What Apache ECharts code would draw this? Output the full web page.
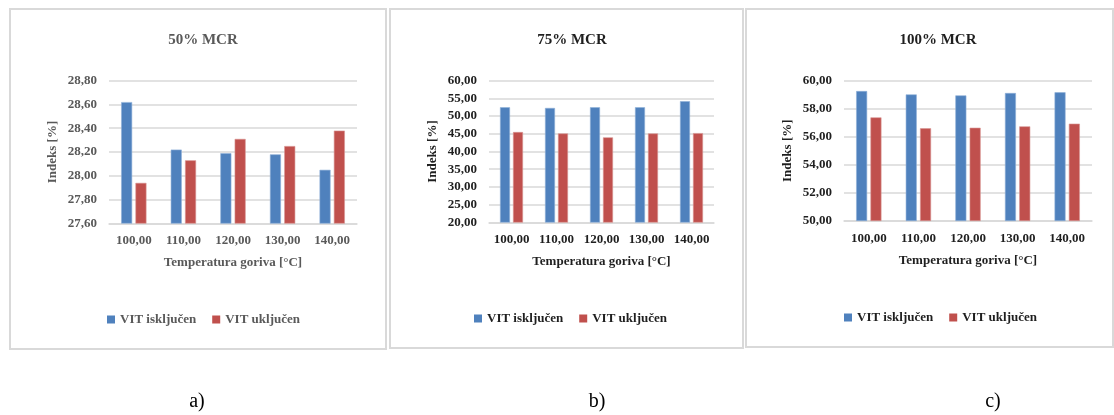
<!DOCTYPE html>
<html>
<head>
<meta charset="utf-8">
<script src="https://cdn.jsdelivr.net/npm/echarts@6/dist/echarts.min.js"></script>
<style>
html,body{margin:0;padding:0;background:#fff;}
#c{width:1114px;height:415px;}
</style>
</head>
<body>
<div id="c"></div>
<script>
// ---- data ----
const categories = ['100,00', '110,00', '120,00', '130,00', '140,00'];
const seriesNames = ['VIT isključen', 'VIT uključen'];
const titles = ['50% MCR', '75% MCR', '100% MCR'];
const captions = ['a)', 'b)', 'c)'];

const offA = [28.62, 28.22, 28.19, 28.18, 28.05];
const onA  = [27.94, 28.13, 28.31, 28.25, 28.38];
const offB = [52.5, 52.3, 52.5, 52.5, 54.2];
const onB  = [45.5, 45.1, 44.0, 45.1, 45.2];
const offC = [59.26, 59.02, 58.95, 59.12, 59.17];
const onC  = [57.38, 56.60, 56.64, 56.74, 56.93];

const yMin = [27.6, 20, 50];
const yMax = [28.8, 60, 60];
const yInterval = [0.2, 5, 2];

const xAxisName = 'Temperatura goriva [°C]';
const yAxisName = 'Indeks [%]';

// ---- layout ----
const BLUE = '#4F81BD', RED = '#C0504D';
const FONT = '"Liberation Serif", "Times New Roman", serif';
const panels = [
  {box: [10, 9, 376, 340], grid: {left: 109, width: 248, top: 80.7, height: 142.6}, titleX: 198, legendX: 102, legendY: 308, color: '#595959', capX: 197},
  {box: [390, 9, 353, 339], grid: {left: 489, width: 225, top: 80.7, height: 141.6}, titleX: 567, legendX: 469, legendY: 307, color: '#1f1f1f', capX: 597},
  {box: [746, 9, 367, 338], grid: {left: 844, width: 248, top: 80.7, height: 140}, titleX: 933, legendX: 839, legendY: 306, color: '#1f1f1f', capX: 993}
];
const seriesData = [[offA, onA], [offB, onB], [offC, onC]];

const fmt = v => v.toFixed(2).replace('.', ',');

const option = {
  animation: false,
  backgroundColor: '#fff',
  title: panels.map((p, i) => ({
    text: titles[i], left: p.titleX, top: 28, textAlign: 'center',
    textStyle: {fontFamily: FONT, fontWeight: 'bold', fontSize: 15, color: p.color}
  })),
  legend: panels.map((p, i) => ({
    data: seriesNames, left: p.legendX, top: p.legendY, icon: 'rect',
    itemWidth: 8, itemHeight: 8, itemGap: 16,
    itemStyle: {borderWidth: 0},
    textStyle: {fontFamily: FONT, fontWeight: 'bold', fontSize: 13, color: p.color}
  })),
  grid: panels.map(p => Object.assign({containLabel: false}, p.grid)),
  xAxis: panels.map((p, i) => ({
    type: 'category', gridIndex: i, data: categories,
    axisLine: {lineStyle: {color: '#d9d9d9', width: 1.5}},
    axisTick: {show: false},
    axisLabel: {interval: 0, fontFamily: FONT, fontWeight: 'bold', fontSize: 13, color: p.color, margin: 11},
    name: xAxisName, nameLocation: 'middle', nameGap: 33,
    nameTextStyle: {fontFamily: FONT, fontWeight: 'bold', fontSize: 13, color: p.color}
  })),
  yAxis: panels.map((p, i) => ({
    type: 'value', gridIndex: i, min: yMin[i], max: yMax[i], interval: yInterval[i],
    axisLine: {show: false}, axisTick: {show: false},
    splitLine: {lineStyle: {color: '#d9d9d9', width: 1.5}},
    axisLabel: {fontFamily: FONT, fontWeight: 'bold', fontSize: 13, color: p.color, margin: 12, formatter: fmt},
    name: yAxisName, nameLocation: 'middle', nameGap: 50, nameRotate: 90,
    nameTextStyle: {fontFamily: FONT, fontWeight: 'bold', fontSize: 13, color: p.color}
  })),
  series: [],
  graphic: []
};

panels.forEach((p, i) => {
  seriesNames.forEach((n, k) => {
    option.series.push({
      type: 'bar', name: n, xAxisIndex: i, yAxisIndex: i,
      data: seriesData[i][k], barWidth: i === 1 ? 10 : 11, barGap: '30%',
      itemStyle: {color: k === 0 ? BLUE : RED, borderColor: k === 0 ? '#8fb0d8' : '#d99694', borderWidth: 0.6}
    });
  });
  option.graphic.push({
    type: 'rect', shape: {x: p.box[0], y: p.box[1], width: p.box[2], height: p.box[3]},
    style: {fill: 'none', stroke: '#d9d9d9', lineWidth: 2}, silent: true
  });
  option.graphic.push({
    type: 'text', x: p.capX, y: 402,
    style: {text: captions[i], font: '20px ' + FONT, fill: '#000', align: 'center', verticalAlign: 'middle'},
    silent: true
  });
});

const chart = echarts.init(document.getElementById('c'), null, {renderer: 'canvas'});
chart.setOption(option);
</script>
</body>
</html>
